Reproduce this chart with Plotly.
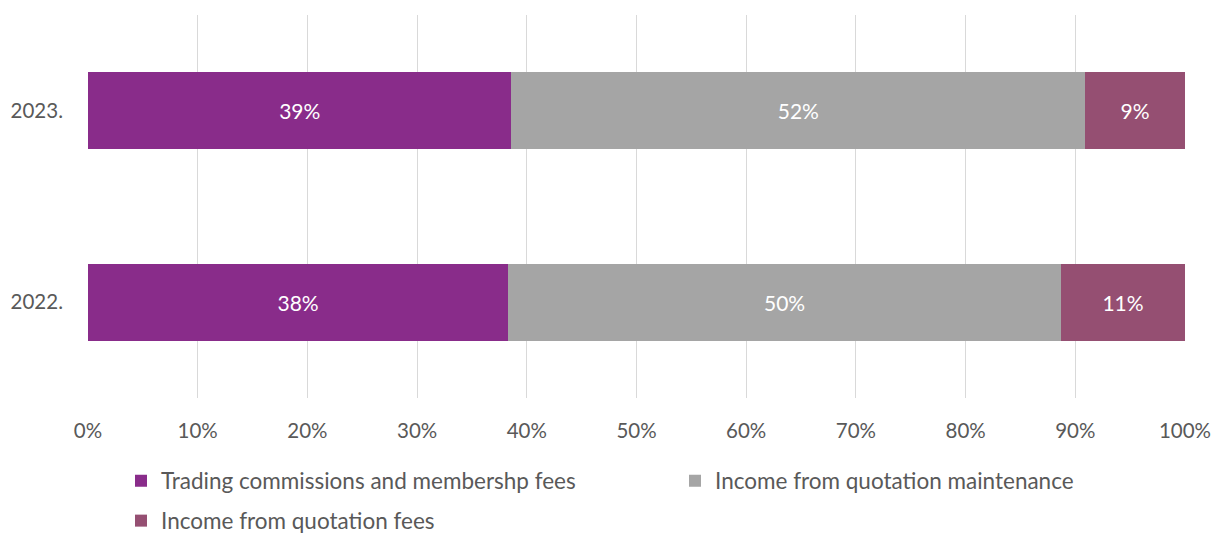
import plotly.graph_objects as go

# Revenue structure by year, shares in percent
years = ["2022.", "2023."]
trading_fees = [38.3, 38.6]
quotation_maintenance = [50.4, 52.3]
quotation_fees = [11.3, 9.1]

series = [
    ("Trading commissions and membershp fees", trading_fees, "#892C8A", "legend"),
    ("Income from quotation maintenance", quotation_maintenance, "#A5A5A5", "legend2"),
    ("Income from quotation fees", quotation_fees, "#954F72", "legend3"),
]

FONT = "Lato, 'Open Sans', sans-serif"
TEXT_COLOR = "#595959"

fig = go.Figure()
for name, vals, color, leg in series:
    fig.add_trace(go.Bar(
        y=years,
        x=vals,
        name=name,
        orientation="h",
        legend=leg,
        marker=dict(color=color, line=dict(width=0)),
        texttemplate="%{x:.0f}%",
        textposition="inside",
        insidetextanchor="middle",
        textfont=dict(color="white", size=21, family=FONT),
        hoverinfo="skip",
    ))

legend_common = dict(
    orientation="h",
    xref="container",
    yref="container",
    xanchor="left",
    yanchor="middle",
    traceorder="normal",
    font=dict(size=22.5, color=TEXT_COLOR, family=FONT),
    bgcolor="rgba(0,0,0,0)",
    itemclick=False,
    itemdoubleclick=False,
)

fig.update_layout(
    barmode="stack",
    bargap=0.6,
    width=1212,
    height=533,
    margin=dict(l=88, r=27, t=15, b=135, autoexpand=False),
    plot_bgcolor="white",
    paper_bgcolor="white",
    font=dict(family=FONT, size=21, color=TEXT_COLOR),
    uniformtext=dict(mode="show", minsize=10),
    showlegend=True,
    legend=dict(legend_common, x=121 / 1212, y=1 - 481 / 533),
    legend2=dict(legend_common, x=675 / 1212, y=1 - 481 / 533),
    legend3=dict(legend_common, x=121 / 1212, y=1 - 521 / 533),
)

fig.update_xaxes(
    range=[0, 100],
    tickvals=[0, 10, 20, 30, 40, 50, 60, 70, 80, 90, 100],
    ticktext=["0%", "10%", "20%", "30%", "40%", "50%", "60%", "70%", "80%", "90%", "100%"],
    showgrid=True,
    gridcolor="#D9D9D9",
    gridwidth=1,
    zeroline=False,
    showline=False,
    ticks="",
    ticklabelstandoff=18,
    tickfont=dict(size=20.5, color=TEXT_COLOR),
    automargin=False,
    fixedrange=True,
)
fig.update_yaxes(
    categoryorder="array",
    categoryarray=years,
    showgrid=False,
    zeroline=False,
    showline=False,
    ticks="",
    ticklabelstandoff=24,
    tickfont=dict(size=20.5, color=TEXT_COLOR),
    automargin=False,
    fixedrange=True,
)

fig.write_html("out.html")
